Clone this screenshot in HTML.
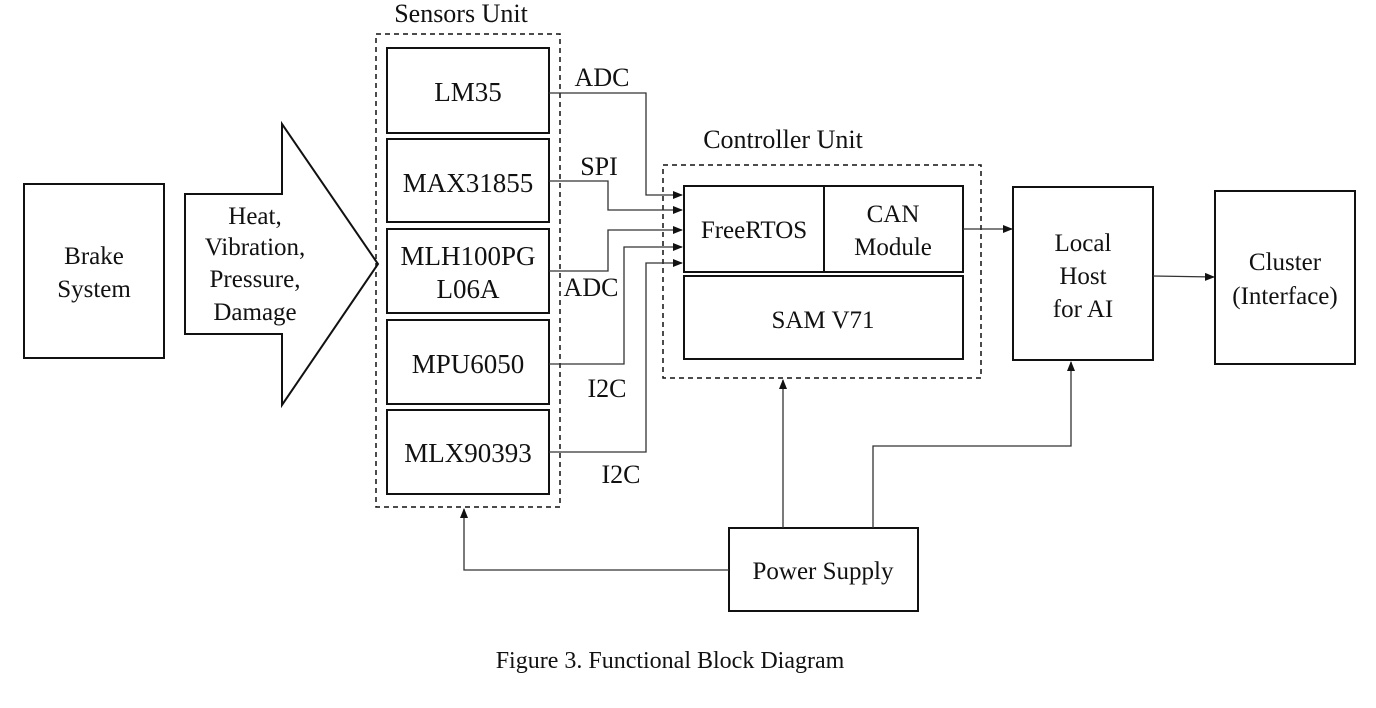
<!DOCTYPE html>
<html><head><meta charset="utf-8"><style>
html,body{margin:0;padding:0;background:#fff;}
svg{display:block;}
text{font-family:"Liberation Serif",serif;fill:#111;}
</style></head><body>
<svg width="1376" height="708" viewBox="0 0 1376 708" xmlns="http://www.w3.org/2000/svg">
<defs>
<marker id="ar" markerWidth="10" markerHeight="8" refX="9" refY="4" orient="auto" markerUnits="userSpaceOnUse">
<path d="M0,0 L10,4 L0,8 z" fill="#111"/>
</marker>
</defs>
<g fill="none" stroke="#111" stroke-width="2">
<rect x="24" y="184" width="140" height="174"/>
<path d="M185,194 L282,194 L282,124 L378,264 L282,405 L282,334 L185,334 Z"/>
<rect x="387" y="48" width="162" height="85"/>
<rect x="387" y="139" width="162" height="83"/>
<rect x="387" y="229" width="162" height="84"/>
<rect x="387" y="320" width="162" height="84"/>
<rect x="387" y="410" width="162" height="84"/>
<rect x="684" y="186" width="279" height="86"/>
<line x1="824" y1="186" x2="824" y2="272"/>
<rect x="684" y="276" width="279" height="83"/>
<rect x="1013" y="187" width="140" height="173"/>
<rect x="1215" y="191" width="140" height="173"/>
<rect x="729" y="528" width="189" height="83"/>
</g>
<g fill="none" stroke="#111" stroke-width="1.5" stroke-dasharray="5,4">
<rect x="376" y="34" width="184" height="473"/>
<rect x="663" y="165" width="318" height="213"/>
</g>
<g fill="none" stroke="#333" stroke-width="1.3">
<polyline points="549,93 646,93 646,195 682,195" marker-end="url(#ar)"/>
<polyline points="549,181 608,181 608,210 682,210" marker-end="url(#ar)"/>
<polyline points="549,271 608,271 608,230 682,230" marker-end="url(#ar)"/>
<polyline points="549,364 624,364 624,247 682,247" marker-end="url(#ar)"/>
<polyline points="549,452 646,452 646,263 682,263" marker-end="url(#ar)"/>
<line x1="963" y1="229" x2="1012" y2="229" marker-end="url(#ar)"/>
<line x1="1153" y1="276" x2="1214" y2="277" marker-end="url(#ar)"/>
<line x1="783" y1="528" x2="783" y2="380" marker-end="url(#ar)"/>
<polyline points="873,528 873,446 1071,446 1071,362" marker-end="url(#ar)"/>
<polyline points="729,570 464,570 464,509" marker-end="url(#ar)"/>
</g>
<g font-size="25" text-anchor="middle">
<text x="94" y="264">Brake</text>
<text x="94" y="297">System</text>
<text x="255" y="224">Heat,</text>
<text x="255" y="255">Vibration,</text>
<text x="255" y="287">Pressure,</text>
<text x="255" y="320">Damage</text>
<g font-size="27">
<text x="468" y="101">LM35</text>
<text x="468" y="192">MAX31855</text>
<text x="468" y="265">MLH100PG</text>
<text x="468" y="298">L06A</text>
<text x="468" y="373">MPU6050</text>
<text x="468" y="462">MLX90393</text>
</g>
<text x="754" y="238">FreeRTOS</text>
<text x="893" y="222">CAN</text>
<text x="893" y="255">Module</text>
<text x="823" y="328">SAM V71</text>
<text x="1083" y="251">Local</text>
<text x="1083" y="284">Host</text>
<text x="1083" y="317">for AI</text>
<text x="1285" y="270">Cluster</text>
<text x="1285" y="304">(Interface)</text>
<text x="823" y="579">Power Supply</text>
<text x="461" y="22" font-size="26">Sensors Unit</text>
<text x="783" y="148" font-size="26">Controller Unit</text>
<text x="602" y="86" font-size="26">ADC</text>
<text x="599" y="175" font-size="26">SPI</text>
<text x="591" y="296" font-size="26">ADC</text>
<text x="607" y="397" font-size="26">I2C</text>
<text x="621" y="483" font-size="26">I2C</text>
<text x="670" y="668" font-size="24">Figure 3. Functional Block Diagram</text>
</g>
</svg>
</body></html>
